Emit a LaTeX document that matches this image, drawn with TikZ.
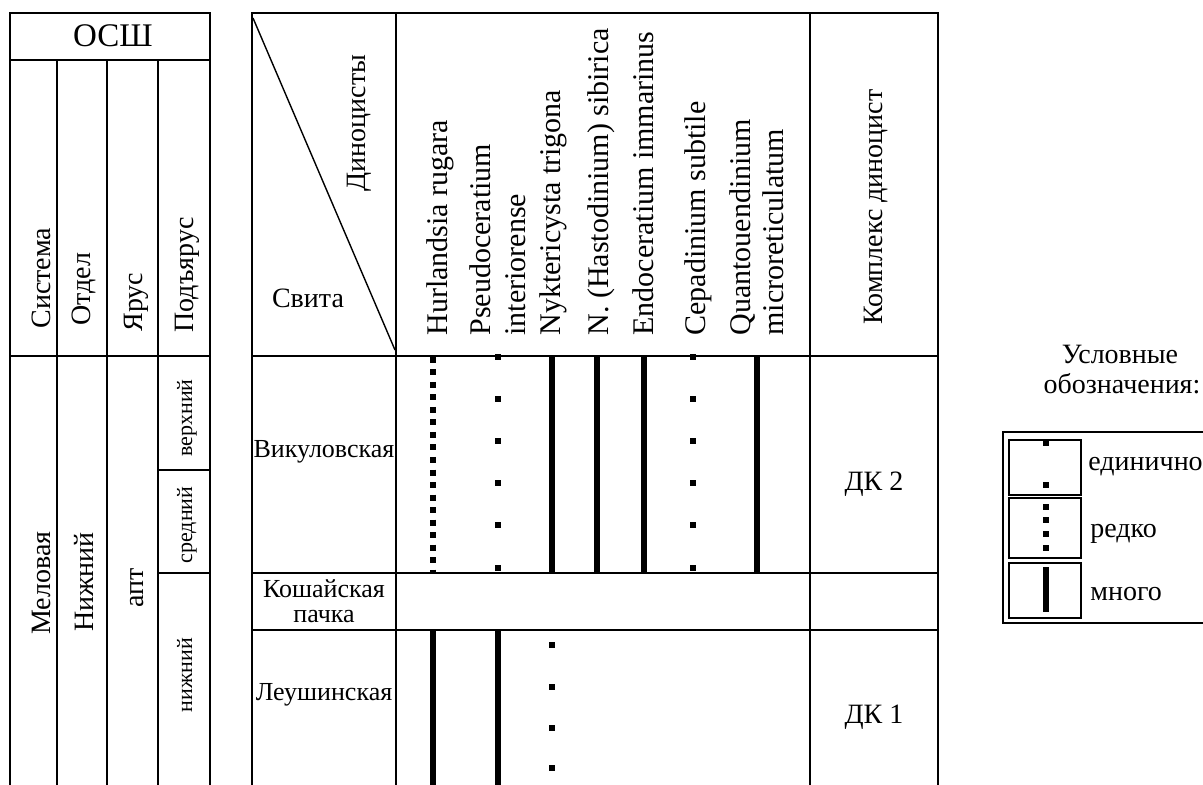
\documentclass[tikz,border=0pt]{standalone}
\usepackage{fontspec}
\setmainfont{Liberation Serif}
\newcommand{\hdSty}{\fontsize{14}{16}\selectfont}
\newcommand{\osSty}{\fontsize{16.5}{18}\selectfont}
\newcommand{\spSty}{\fontsize{15}{17}\selectfont}
\newcommand{\svSty}{\fontsize{13}{15}\selectfont}
\newcommand{\subSty}{\fontsize{11}{13}\selectfont}
\newcommand{\occdot}[2]{\fill ({#1-3},{#2-3}) rectangle ++(6,6);}
\tikzset{
  tabline/.style={line width=0.7pt},
  vlabel/.style={rotate=90, inner sep=0pt},
  hlabel/.style={inner sep=0pt},
  occmany/.style={line width=3.3pt},
  occrare/.style={line width=3pt, dash pattern=on 3pt off 3.25pt}
}

\begin{document}
\begin{tikzpicture}[x=0.5pt, y=-0.5pt]

		% page
		\useasboundingbox (0,0) rectangle (1203,785);

		% OSSh table
		\draw[tabline] (10,785) -- (10,13) -- (210,13) -- (210,785);
		\draw[tabline] (10,60) -- (210,60);
		\draw[tabline] (10,356) -- (210,356);
		\draw[tabline] (57,60) -- (57,785);
		\draw[tabline] (107,60) -- (107,785);
		\draw[tabline] (158,60) -- (158,785);
		\draw[tabline] (158,470) -- (210,470);
		\draw[tabline] (158,573) -- (210,573);

		% OSSh header
		\node[hlabel, anchor=base, font=\osSty] (ossh) at (113,47) {ОСШ};
		\node[vlabel, anchor=base west, font=\hdSty] (sistema) at (50,329) {Система};
		\node[vlabel, anchor=base west, font=\hdSty] (otdel) at (90,326) {Отдел};
		\node[vlabel, anchor=base west, font=\hdSty] (yarus) at (142,332) {Ярус};
		\node[vlabel, anchor=base west, font=\hdSty] (podyarus) at (193,333) {Подъярус};

		% OSSh units
		\node[vlabel, anchor=base, font=\hdSty] (melovaya) at (50,583) {Меловая};
		\node[vlabel, anchor=base, font=\hdSty] (nizhniy) at (93,582) {Нижний};
		\node[vlabel, anchor=base, font=\hdSty] (apt) at (143,588) {апт};
		\node[vlabel, anchor=base, font=\subSty] (apt3) at (192,418) {верхний};
		\node[vlabel, anchor=base, font=\subSty] (apt2) at (192,525) {средний};
		\node[vlabel, anchor=base, font=\subSty] (apt1) at (192,675) {нижний};

		% main table
		\draw[tabline] (252,785) -- (252,13) -- (938,13) -- (938,785);
		\draw[tabline] (252,356) -- (938,356);
		\draw[tabline] (252,573) -- (938,573);
		\draw[tabline] (252,630) -- (938,630);
		\draw[tabline] (396,13) -- (396,785);
		\draw[tabline] (810,13) -- (810,785);
		\draw[tabline] (253,18) -- (395,350);

		% corner cell
		\node[vlabel, anchor=base, font=\hdSty] (dinoc) at (365,123) {Диноцисты};
		\node[hlabel, anchor=base, font=\hdSty] (svita) at (308,308) {Свита};

		% species
		\node[vlabel, anchor=base west, font=\spSty] (hurl) at (447,336) {Hurlandsia rugara};
		\node[vlabel, anchor=base west, font=\spSty] (pseu) at (490,336) {Pseudoceratium};
		\node[vlabel, anchor=base west, font=\spSty] (pseuB) at (525,336) {interiorense};
		\node[vlabel, anchor=base west, font=\spSty] (nykt) at (560,336) {Nyktericysta trigona};
		\node[vlabel, anchor=base west, font=\spSty] (hast) at (608,336) {N. (Hastodinium) sibirica};
		\node[vlabel, anchor=base west, font=\spSty] (endo) at (653,336) {Endoceratium immarinus};
		\node[vlabel, anchor=base west, font=\spSty] (cepa) at (705,336) {Cepadinium subtile};
		\node[vlabel, anchor=base west, font=\spSty] (quan) at (750,336) {Quantouendinium};
		\node[vlabel, anchor=base west, font=\spSty] (quanB) at (783,336) {microreticulatum};

		% complex header
		\node[vlabel, anchor=base, font=\hdSty] (kompl) at (882,207) {Комплекс диноцист};

		% svity
		\node[hlabel, anchor=base, font=\svSty] (vikul) at (324,458) {Викуловская};
		\node[hlabel, anchor=base, font=\svSty] (kosh) at (324,597) {Кошайская};
		\node[hlabel, anchor=base, font=\svSty] (koshB) at (324,622) {пачка};
		\node[hlabel, anchor=base, font=\svSty] (leush) at (324,700) {Леушинская};

		% complexes
		\node[hlabel, anchor=base, font=\hdSty] (dk2) at (874,490) {ДК 2};
		\node[hlabel, anchor=base, font=\hdSty] (dk1) at (874,723) {ДК 1};

		% vikulovskaya ranges
		\draw[occrare] (433,357) -- (433,573);
		\foreach \y in {357,399,441,483,525,568} {\occdot{498}{\y}}
		\draw[occmany] (552,356) -- (552,573);
		\draw[occmany] (597,356) -- (597,573);
		\draw[occmany] (644,356) -- (644,573);
		\foreach \y in {357,399,441,483,525,568} {\occdot{693}{\y}}
		\draw[occmany] (757,356) -- (757,573);

		% leushinskaya ranges
		\draw[occmany] (433,630) -- (433,785);
		\draw[occmany] (498,630) -- (498,785);
		\foreach \y in {645,687,728,768} {\occdot{552}{\y}}

		% legend title
		\node[hlabel, anchor=base, font=\hdSty] (legA) at (1120,364) {Условные};
		\node[hlabel, anchor=base, font=\hdSty] (legB) at (1122,394) {обозначения:};

		% legend boxes
		\draw[tabline] (1210,432) -- (1003,432) -- (1003,623) -- (1210,623);
		\draw[tabline] (1009,440) rectangle (1081,495);
		\draw[tabline] (1009,498) rectangle (1081,558);
		\draw[tabline] (1009,563) rectangle (1081,618);
		\occdot{1046}{443}
		\occdot{1046}{485}
		\foreach \y in {507,520,534,548} {\occdot{1046}{\y}}
		\draw[occmany] (1046,567) -- (1046,612);

		% legend labels
		\node[hlabel, anchor=base west, font=\hdSty] (single) at (1088,471) {единично};
		\node[hlabel, anchor=base west, font=\hdSty] (rare) at (1090,537) {редко};
		\node[hlabel, anchor=base west, font=\hdSty] (many) at (1090,600) {много};

\end{tikzpicture}
\end{document}
